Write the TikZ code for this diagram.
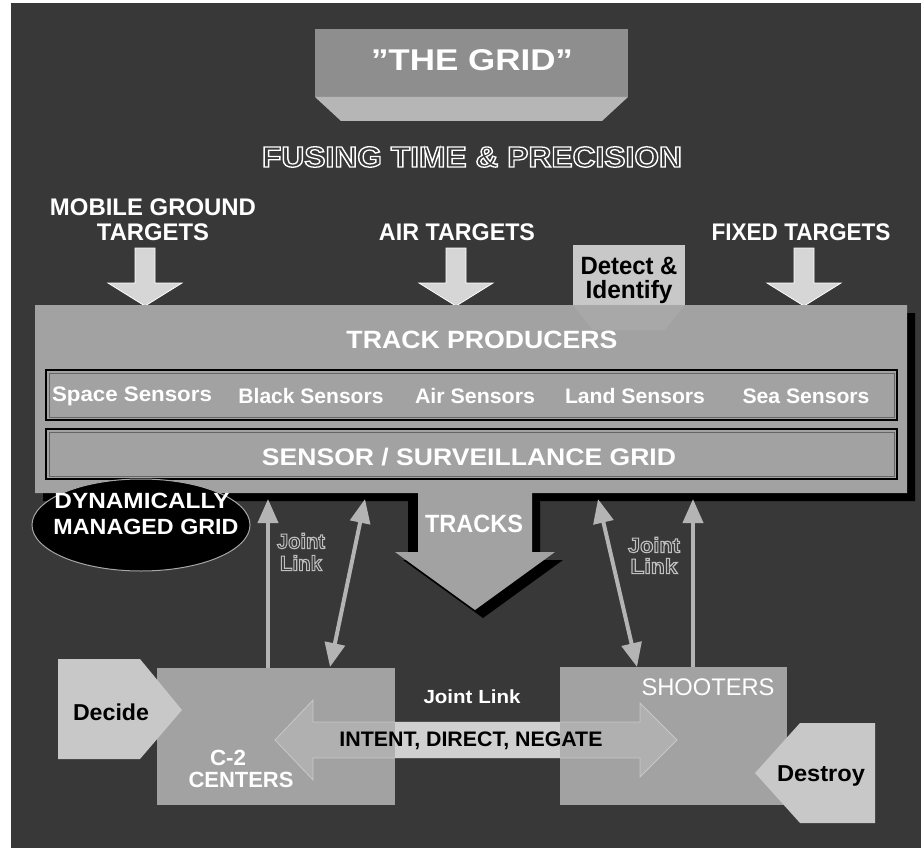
\documentclass[tikz,border=0pt]{standalone}
\usepackage{fontspec}
\setmainfont{Liberation Sans}
\usepackage{graphicx}
\usetikzlibrary{arrows.meta,shapes.geometric}
\definecolor{bgdark}{HTML}{383838}
\definecolor{boxgray}{HTML}{A2A2A2}
\definecolor{titlegray}{HTML}{8E8E8E}
\definecolor{titlelight}{HTML}{B6B6B6}
\definecolor{palegray}{HTML}{C8C8C8}
\definecolor{arrowfill}{HTML}{D6D6D6}
\definecolor{linkgray}{HTML}{B4B4B4}
\definecolor{bandgray}{HTML}{D0D0D0}
\newcommand\fitw[2]{\resizebox{#1pt}{\height}{#2}}
\newcommand\fsz[1]{\fontsize{#1}{#1}\selectfont}
% hollow (stroked only) text: #1 text, #2 stroke width, #3 stroke colour as r g b
\newcommand\hollow[3]{{\special{pdf:literal direct 1 Tr #2 w #3 RG}#1\special{pdf:literal direct 0 Tr}}}
\tikzset{
  lbl/.style={inner sep=0pt, outer sep=0pt, anchor=center},
  wtxt/.style={lbl, text=white},
  btxt/.style={lbl, text=black},
  htxt/.style={lbl, text=bgdark},
  tgtarrow/.style={fill=arrowfill, draw=white, line width=0.8pt},
  jlink/.style={draw=linkgray, line width=4pt, -{Triangle[width=20pt,length=24pt]}},
  jlink2/.style={draw=linkgray, line width=4pt, {Triangle[width=20pt,length=24pt]}-{Triangle[width=20pt,length=24pt]}},
  boxshape/.style={fill=boxgray},
  panel/.style={fill=palegray},
}
\newcommand\targetarrow[1]{%
  \filldraw[tgtarrow] (#1-10,248) -- (#1+10,248) -- (#1+10,283) -- (#1+37,283) -- (#1,306) -- (#1-37,283) -- (#1-10,283) -- cycle;}
\begin{document}
\begin{tikzpicture}[x=1pt,y=-1pt]
\useasboundingbox (0,0) rectangle (923,848);
% background
\fill[white] (0,0) rectangle (923,848);
\fill[bgdark] (11,3) rectangle (921,848);

% title box
\fill[titlegray] (315,29) rectangle (628,97);
\fill[titlelight] (315,97) -- (628,97) -- (602,121) -- (341,121) -- cycle;
\node[wtxt, font=\bfseries\fsz{30}] (title) at (472,60) {\fitw{202}{\symbol{34}THE GRID\symbol{34}}};

\node[htxt, font=\bfseries\fsz{29}] (fusing) at (472,157) {\fitw{420}{\hollow{FUSING TIME \& PRECISION}{1.3}{1 1 1}}};

% target labels
\node[wtxt, font=\bfseries\fsz{24}] (mobile1) at (153,207) {\fitw{206}{MOBILE GROUND}};
\node[wtxt, font=\bfseries\fsz{24}] (mobile2) at (153,232) {\fitw{112}{TARGETS}};
\node[wtxt, font=\bfseries\fsz{24}] (air) at (457,232) {\fitw{156}{AIR TARGETS}};
\node[wtxt, font=\bfseries\fsz{24}] (fixed) at (801,232) {\fitw{179}{FIXED TARGETS}};

% target arrows
\targetarrow{145}
\targetarrow{456}
\targetarrow{804}

% detect box
\fill[panel] (573,245) rectangle (685,306);
\node[btxt, font=\bfseries\fsz{25}] (detect1) at (629,266) {\fitw{97}{Detect \&}};
\node[btxt, font=\bfseries\fsz{25}] (detect2) at (629,292) {\fitw{87}{Identify}};

% big box with TRACKS arrow
\def\bigbox{(35,305) -- (907,305) -- (907,493) -- (532,493) -- (532,552) -- (555,552) -- (475,610) -- (395,552) -- (418,552) -- (418,493) -- (35,493) -- cycle}
\fill[black, shift={(8,8)}] \bigbox;
\fill[black] (408,493) rectangle (418,552);
\fill[boxgray] \bigbox;
\fill[white, opacity=0.07] (573,305) -- (685,305) -- (665,330) -- (593,330) -- cycle;

\node[wtxt, font=\bfseries\fsz{25}] (trackprod) at (482,340) {\fitw{271}{TRACK PRODUCERS}};

\draw[boxshape, draw=black, line width=1.2pt] (46,370) rectangle (897,420);
\draw[black!60, line width=0.5pt] (49,373) rectangle (894,417);
\node[wtxt, font=\bfseries\fsz{21}] (space) at (132,396) {\fitw{160}{Space Sensors}};
\node[wtxt, font=\bfseries\fsz{21}] (black) at (311,396) {\fitw{145}{Black Sensors}};
\node[wtxt, font=\bfseries\fsz{21}] (airs) at (475,396) {\fitw{120}{Air Sensors}};
\node[wtxt, font=\bfseries\fsz{21}] (land) at (635,396) {\fitw{140}{Land Sensors}};
\node[wtxt, font=\bfseries\fsz{21}] (sea) at (806,396) {\fitw{127}{Sea Sensors}};

\draw[boxshape, draw=black, line width=1.2pt] (46,429) rectangle (897,479);
\draw[black!60, line width=0.5pt] (49,432) rectangle (894,476);
\node[wtxt, font=\bfseries\fsz{24}] (grid) at (469,457) {\fitw{414}{SENSOR / SURVEILLANCE GRID}};

\node[wtxt, font=\bfseries\fsz{25}] (tracks) at (474,524) {\fitw{98}{TRACKS}};

% dynamically managed grid
\node[ellipse, fill=black, draw=gray!70, line width=1pt, minimum width=218pt, minimum height=92pt, inner sep=0pt] (dyn) at (141,525) {};
\node[wtxt, font=\bfseries\fsz{22}] (dyn1) at (142,501) {\fitw{175}{DYNAMICALLY}};
\node[wtxt, font=\bfseries\fsz{22}] (dyn2) at (146,527) {\fitw{185}{MANAGED GRID}};

% bottom boxes
\fill[boxshape] (157,668) rectangle (395,805);
\fill[boxshape] (560,667) rectangle (787,805);
\filldraw[fill=white, fill opacity=0.16, draw=white, draw opacity=0.35, line width=0.8pt]
  (275,740) -- (313,700) -- (313,722) -- (640,722) -- (640,703) -- (677,740) -- (640,777) -- (640,758) -- (313,758) -- (313,780) -- cycle;
\fill[bandgray] (395,722) rectangle (560,758);
\fill[panel] (58,659) -- (140,659) -- (182,710) -- (140,759) -- (58,759) -- cycle;
\fill[panel] (800,723) -- (875,723) -- (875,823) -- (800,823) -- (755,773) -- cycle;

% joint link arrows
\coordinate (j1b) at (268,668);
\coordinate (j1t) at (268,499);
\coordinate (j2b) at (330,667);
\coordinate (j2t) at (365,499);
\coordinate (j3t) at (598,499);
\coordinate (j3b) at (637,667);
\coordinate (j4b) at (693,667);
\coordinate (j4t) at (693,499);
\draw[jlink] (j1b) -- (j1t);
\draw[jlink2] (j2b) -- (j2t);
\draw[jlink2] (j3t) -- (j3b);
\draw[jlink] (j4b) -- (j4t);

\node[htxt, font=\bfseries\fsz{21}] (jl1a) at (301,541) {\fitw{48}{\hollow{Joint}{1.1}{0.75 0.75 0.75}}};
\node[htxt, font=\bfseries\fsz{21}] (jl1b) at (301,563) {\fitw{42}{\hollow{Link}{1.1}{0.75 0.75 0.75}}};
\node[htxt, font=\bfseries\fsz{21}] (jl2a) at (654,545) {\fitw{52}{\hollow{Joint}{1.1}{0.75 0.75 0.75}}};
\node[htxt, font=\bfseries\fsz{21}] (jl2b) at (654,566) {\fitw{47}{\hollow{Link}{1.1}{0.75 0.75 0.75}}};

% bottom texts
\node[wtxt, font=\bfseries\fsz{19}] (jointh) at (472,697) {\fitw{97}{Joint Link}};
\node[wtxt, font=\fsz{24}] (shooters) at (708,687) {\fitw{133}{SHOOTERS}};
\node[btxt, font=\bfseries\fsz{23}] (decide) at (111,712) {\fitw{76}{Decide}};
\node[btxt, font=\bfseries\fsz{23}] (destroy) at (821,776) {\fitw{88}{Destroy}};
\node[btxt, font=\bfseries\fsz{21}] (intent) at (471,741) {\fitw{263}{INTENT, DIRECT, NEGATE}};
\node[wtxt, font=\bfseries\fsz{22}] (c2a) at (228,758) {\fitw{36}{C-2}};
\node[wtxt, font=\bfseries\fsz{22}] (c2b) at (241,780) {\fitw{105}{CENTERS}};
\end{tikzpicture}
\end{document}
